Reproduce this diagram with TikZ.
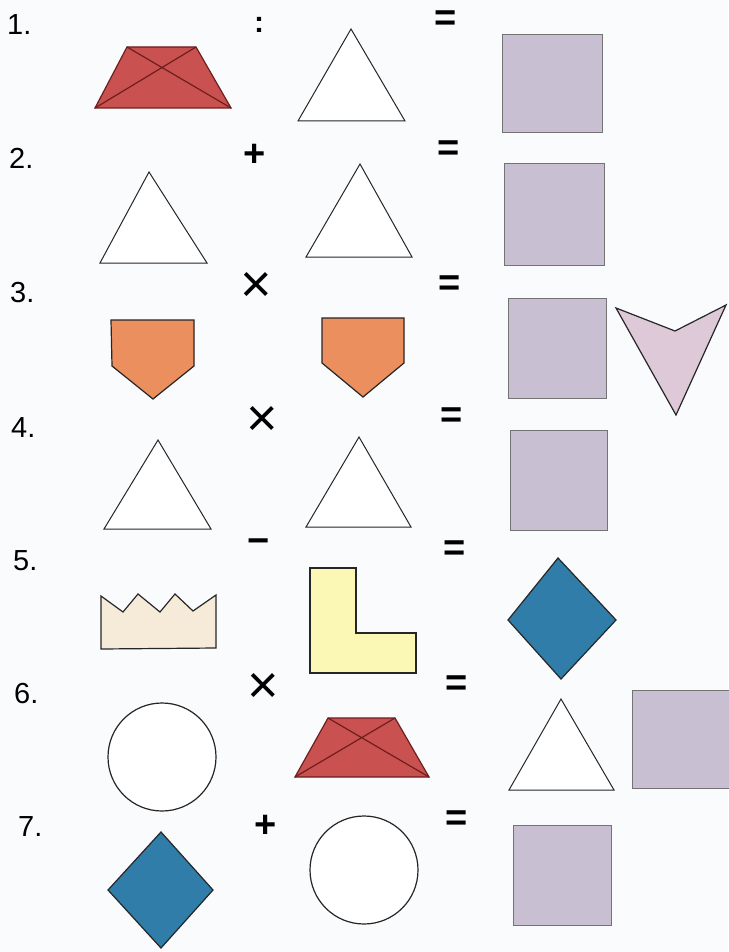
\documentclass[tikz,border=0pt]{standalone}
\usepackage{fontspec}
\setmainfont{Liberation Sans}
\begin{document}
\begin{tikzpicture}[x=1pt,y=-1pt,
  lbl/.style={font=\fontsize{29}{29}\selectfont, inner sep=0pt, anchor=base west},
  opx/.style={font=\fontsize{54}{54}\selectfont, inner sep=0pt},
  opb/.style={font=\bfseries\fontsize{38}{38}\selectfont, inner sep=0pt},
  shp/.style={draw=black!85, line width=1.2pt, line join=miter},
  tri/.style={shp, line width=1pt, fill=white},
  sq/.style={draw=black!55, line width=1pt, fill=lav},
  trap/.style={draw=trapline, line width=1.2pt, fill=trapred},
]
\definecolor{bg}{HTML}{F9FBFD}
\definecolor{lav}{HTML}{C8BFD3}
\definecolor{trapred}{HTML}{C9514F}
\definecolor{trapline}{HTML}{6E1E1E}
\definecolor{pent}{HTML}{EC8F5E}
\definecolor{vpink}{HTML}{DEC9D8}
\definecolor{cream}{HTML}{F6EAD8}
\definecolor{lyel}{HTML}{FBF7B4}
\definecolor{dblue}{HTML}{2F7DA8}
\fill[bg] (0,0) rectangle (728,952);
\useasboundingbox (0,0) rectangle (728,952);
% labels
\node[lbl] (n1) at (7,35) {1.};
\node[lbl] (n2) at (9,169) {2.};
\node[lbl] (n3) at (10,302) {3.};
\node[lbl] (n4) at (11,437) {4.};
\node[lbl] (n5) at (13,570) {5.};
\node[lbl] (n6) at (14,703) {6.};
\node[lbl] (n7) at (18,836) {7.};
% operators
\node[opb, font=\bfseries\fontsize{30}{30}\selectfont] (o1) at (259,25) {:};
\node[opb] (o2) at (255,155) {+};
\node[opx] (o3) at (256,287) {×};
\node[opx] (o4) at (262,421) {×};
\node[opb] (o5) at (259,546) {−};
\node[opx] (o6) at (263,688) {×};
\node[opb] (o7) at (266,826) {+};
\node[opb] (e1) at (446,21) {=};
\node[opb] (e2) at (448.5,150.5) {=};
\node[opb] (e3) at (449.5,285.5) {=};
\node[opb] (e4) at (452,418) {=};
\node[opb] (e5) at (455,551) {=};
\node[opb] (e6) at (457,686) {=};
\node[opb] (e7) at (457,821) {=};
% row 1
\draw[trap] (95,108) -- (127,47) -- (196,47) -- (231,108) -- cycle;
\draw[draw=trapline, line width=1.2pt] (95,108) -- (196,47) (127,47) -- (231,108);
\draw[tri] (351,29) -- (405,121) -- (298,121) -- cycle;
\draw[sq] (502,35) rectangle (602,133);
% row 2
\draw[tri] (149,172) -- (207,263) -- (100,263) -- cycle;
\draw[tri] (360,164) -- (412,257) -- (306,257) -- cycle;
\draw[sq] (504,164) rectangle (604,265);
% row 3
\draw[shp, fill=pent] (111,320) -- (194,320) -- (194,366) -- (153,399) -- (112,366) -- cycle;
\draw[shp, fill=pent] (322,318) -- (404,318) -- (404,363) -- (363,397) -- (322,363) -- cycle;
\draw[sq] (508,298) rectangle (606,398);
\draw[shp, fill=vpink] (616,308) -- (675,331) -- (726,305) -- (676,415) -- cycle;
% row 4
\draw[tri] (158,440) -- (211,529) -- (104,529) -- cycle;
\draw[tri] (359,437) -- (411,527) -- (306,527) -- cycle;
\draw[sq] (510,430) rectangle (607,530);
% row 5
\draw[shp, fill=cream] (101,649) -- (101,596) -- (123,612) -- (138,594) -- (160,612) -- (175,594) -- (193,611) -- (216,595) -- (216,648) -- cycle;
\draw[shp, fill=lyel] (310,568) -- (356,568) -- (356,633) -- (416,633) -- (416,673) -- (310,673) -- cycle;
\draw[shp, fill=dblue] (558,558) -- (616,620) -- (561,679) -- (508,620) -- cycle;
% row 6
\draw[shp, fill=white] (162,757) circle (54);
\draw[trap] (295,777) -- (328,718) -- (395,718) -- (429,777) -- cycle;
\draw[draw=trapline, line width=1.2pt] (295,777) -- (395,718) (328,718) -- (429,777);
\draw[tri] (561,699) -- (614,790) -- (509,790) -- cycle;
\draw[sq] (632,690) rectangle (729,788);
% row 7
\draw[shp, fill=dblue] (161,832) -- (213,890) -- (161,948) -- (108,890) -- cycle;
\draw[shp, fill=white] (364,870) circle (54);
\draw[sq] (513,825) rectangle (611,925);
\end{tikzpicture}
\end{document}
